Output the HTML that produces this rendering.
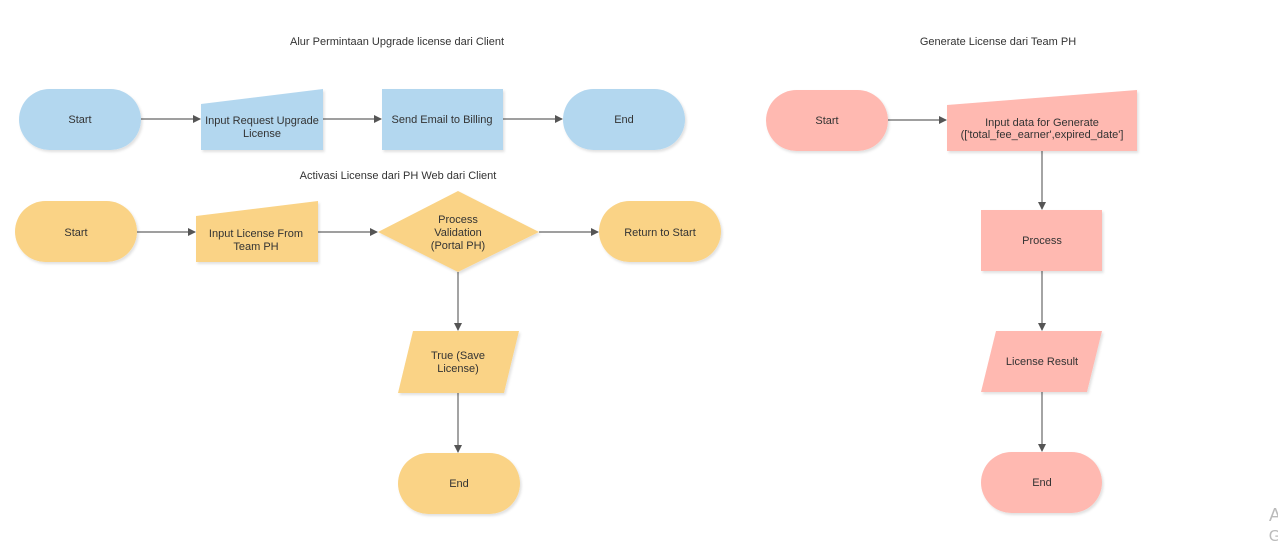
<!DOCTYPE html>
<html><head><meta charset="utf-8"><style>
html,body{margin:0;padding:0;background:#fff;width:1278px;height:541px;overflow:hidden}
svg text{font-family:"Liberation Sans",Arial,sans-serif;font-size:11px;fill:#333;text-anchor:middle}
</style></head><body>
<svg width="1278" height="541" viewBox="0 0 1278 541" xmlns="http://www.w3.org/2000/svg">
<defs>
<marker id="a" markerWidth="8" markerHeight="8" refX="7" refY="4" orient="auto" markerUnits="userSpaceOnUse"><path d="M0,0 L8,4 L0,8 z" fill="#555"/></marker>
<filter id="s" x="-10%" y="-10%" width="125%" height="130%"><feDropShadow dx="1.5" dy="2" stdDeviation="1.2" flood-color="#000" flood-opacity="0.12"/></filter>
</defs>
<g stroke="#666" stroke-width="1.2" fill="none" marker-end="url(#a)">
<line x1="141" y1="119" x2="200" y2="119"/>
<line x1="323" y1="119" x2="381" y2="119"/>
<line x1="503" y1="119" x2="562" y2="119"/>
<line x1="137" y1="232" x2="195" y2="232"/>
<line x1="318" y1="232" x2="377" y2="232"/>
<line x1="539" y1="232" x2="598" y2="232"/>
<line x1="458" y1="272" x2="458" y2="330"/>
<line x1="458" y1="393" x2="458" y2="452"/>
<line x1="888" y1="120" x2="946" y2="120"/>
<line x1="1042" y1="151" x2="1042" y2="209"/>
<line x1="1042" y1="271" x2="1042" y2="330"/>
<line x1="1042" y1="392" x2="1042" y2="451"/>
</g>
<g fill="#b3d7ef" filter="url(#s)">
<rect x="19" y="89" width="122" height="61" rx="30.5"/>
<path d="M201,104 L323,89 L323,150 L201,150 z"/>
<rect x="382" y="89" width="121" height="61"/>
<rect x="563" y="89" width="122" height="61" rx="30.5"/>
</g>
<g fill="#fad386" filter="url(#s)">
<rect x="15" y="201" width="122" height="61" rx="30.5"/>
<path d="M196,216 L318,201 L318,262 L196,262 z"/>
<path d="M458,191 L539,232 L458,272 L378,232 z"/>
<rect x="599" y="201" width="122" height="61" rx="30.5"/>
<path d="M413,331 L519,331 L504,393 L398,393 z"/>
<rect x="398" y="453" width="122" height="61" rx="30.5"/>
</g>
<g fill="#ffb9b1" filter="url(#s)">
<rect x="766" y="90" width="122" height="61" rx="30.5"/>
<path d="M947,105 L1137,90 L1137,151 L947,151 z"/>
<rect x="981" y="210" width="121" height="61"/>
<path d="M996,331 L1102,331 L1087,392 L981,392 z"/>
<rect x="981" y="452" width="121" height="61" rx="30.5"/>
</g>
<text x="397" y="45">Alur Permintaan Upgrade license dari Client</text>
<text x="998" y="45">Generate License dari Team PH</text>
<text x="398" y="179">Activasi License dari PH Web dari Client</text>
<text x="80" y="123">Start</text>
<text x="262" y="124">Input Request Upgrade</text>
<text x="262" y="137">License</text>
<text x="442" y="123">Send Email to Billing</text>
<text x="624" y="123">End</text>
<text x="76" y="236">Start</text>
<text x="256" y="237">Input License From</text>
<text x="256" y="250">Team PH</text>
<text x="458" y="223">Process</text>
<text x="458" y="236">Validation</text>
<text x="458" y="249">(Portal PH)</text>
<text x="660" y="236">Return to Start</text>
<text x="458" y="359">True (Save</text>
<text x="458" y="372">License)</text>
<text x="459" y="487">End</text>
<text x="827" y="124">Start</text>
<text x="1042" y="126">Input data for Generate</text>
<text x="1042" y="138">(['total_fee_earner',expired_date']</text>
<text x="1042" y="244">Process</text>
<text x="1042" y="365">License Result</text>
<text x="1042" y="486">End</text>
<text x="1275" y="521" style="font-size:18px;fill:#bbb">A</text>
<text x="1275" y="541" style="font-size:16px;fill:#bbb">G</text>
</svg>
</body></html>
